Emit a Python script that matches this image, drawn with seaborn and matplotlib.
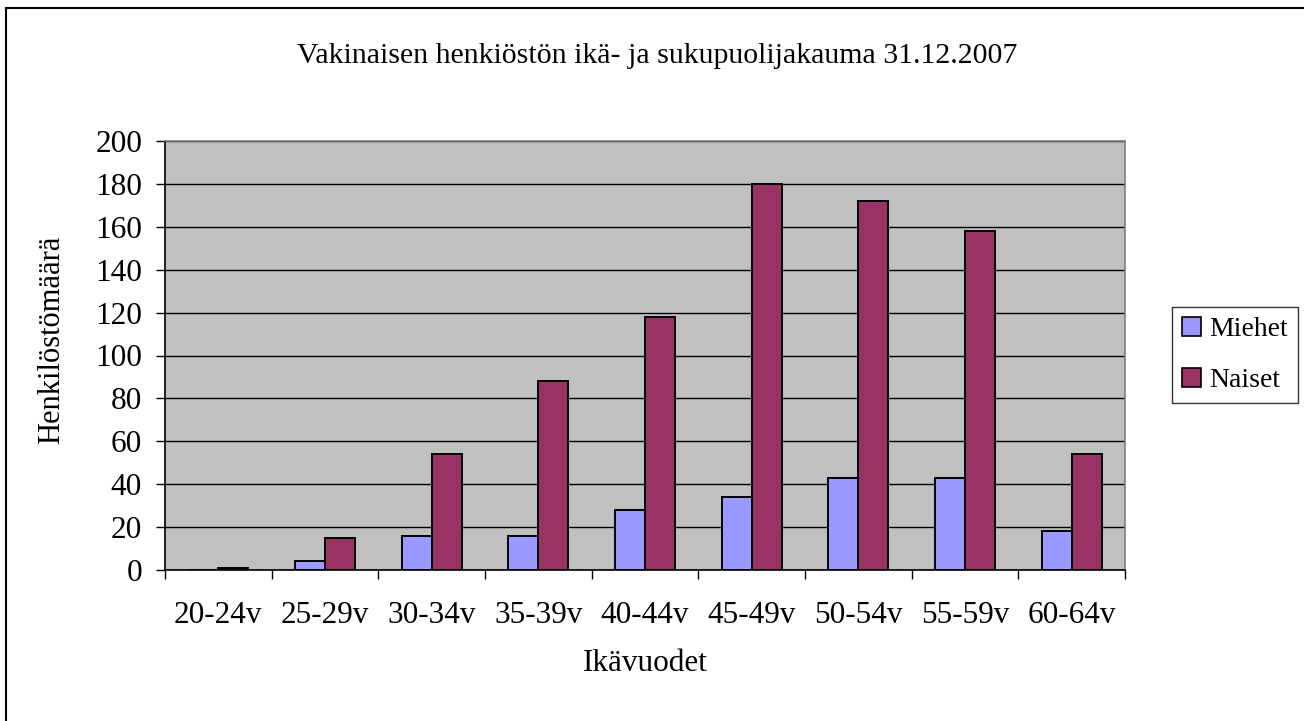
import matplotlib
matplotlib.use("Agg")
import matplotlib.pyplot as plt
from matplotlib.lines import Line2D
from matplotlib.patches import Patch
import seaborn as sns
import pandas as pd

categories = ["20-24v", "25-29v", "30-34v", "35-39v", "40-44v", "45-49v", "50-54v", "55-59v", "60-64v"]
miehet = [0, 4, 16, 16, 28, 34, 43, 43, 18]
naiset = [1, 15, 54, 88, 118, 180, 172, 158, 54]
series_names = ["Miehet", "Naiset"]
colors = ["#9999FF", "#993366"]
yticks = [0, 20, 40, 60, 80, 100, 120, 140, 160, 180, 200]
title = "Vakinaisen henkiöstön ikä- ja sukupuolijakauma 31.12.2007"
xlabel = "Ikävuodet"
ylabel = "Henkilöstömäärä"

df = pd.DataFrame({
    "cat": categories * 2,
    "val": miehet + naiset,
    "ser": [series_names[0]] * len(categories) + [series_names[1]] * len(categories),
})

sns.set_theme(style="white")
plt.rcParams["font.family"] = ["Liberation Serif", "DejaVu Serif"]
plt.rcParams["text.color"] = "black"
plt.rcParams["axes.labelcolor"] = "black"
plt.rcParams["xtick.color"] = "black"
plt.rcParams["ytick.color"] = "black"

W, H = 1304, 721
fig = plt.figure(figsize=(W / 100, H / 100), dpi=100)
ax = fig.add_axes([165 / W, 1 - 570 / H, (1125 - 165) / W, (570 - 141) / H])
ax.set_facecolor("#C0C0C0")

sns.barplot(data=df, x="cat", y="val", hue="ser", order=categories,
            hue_order=series_names, palette=colors, saturation=1, width=0.56,
            edgecolor="black", linewidth=1.4, ax=ax, legend=False, zorder=3)

ax.set_xlim(-0.5, len(categories) - 0.5)
ax.set_ylim(0, 200)
ax.set_yticks(yticks)
ax.set_yticklabels([str(v) for v in yticks], fontsize=22.5)
ax.yaxis.grid(True, color="black", linewidth=1.0, zorder=0)
ax.set_axisbelow(True)
ax.tick_params(axis="y", direction="out", length=6.5, width=1, color="black", left=True, pad=10)

ax.set_xticks(range(len(categories)))
ax.set_xticklabels(categories, fontsize=22.5)
ax.tick_params(axis="x", which="major", length=0, pad=22)
ax.set_xticks([i - 0.5 for i in range(len(categories) + 1)], minor=True)
ax.tick_params(axis="x", which="minor", direction="out", length=6.5, width=1, color="black", bottom=True)

for s in ["top", "right"]:
    ax.spines[s].set_color("#808080")
    ax.spines[s].set_linewidth(1.2)
for s in ["left", "bottom"]:
    ax.spines[s].set_color("black")
    ax.spines[s].set_linewidth(1.2)

ax.set_xlabel(xlabel, fontsize=22.5, labelpad=14)
ax.set_ylabel("")
fig.text(52 / W, 1 - 340 / H, ylabel, rotation=90, ha="center", va="center", fontsize=22)

fig.text(0.504, 1 - 56 / H, title, ha="center", va="center", fontsize=21.5)

handles = [Patch(facecolor=c, edgecolor="black", linewidth=1.2) for c in colors]
leg = fig.legend(handles, series_names, loc="upper left",
                 bbox_to_anchor=(1172 / W, 1 - 307 / H), fontsize=20,
                 frameon=True, fancybox=False, handlelength=0.7, handleheight=0.7,
                 handletextpad=0.3, borderpad=0.35, labelspacing=0.93,
                 borderaxespad=0)
leg.get_frame().set_edgecolor("black")
leg.get_frame().set_linewidth(1.0)

# outer chart frame (top and left edges visible)
fig.add_artist(Line2D([6 / W, 6 / W], [0, 1 - 8 / H], transform=fig.transFigure, color="black", linewidth=1.5))
fig.add_artist(Line2D([6 / W, 1], [1 - 8 / H, 1 - 8 / H], transform=fig.transFigure, color="black", linewidth=1.5))

fig.savefig("out.png", dpi=100)
